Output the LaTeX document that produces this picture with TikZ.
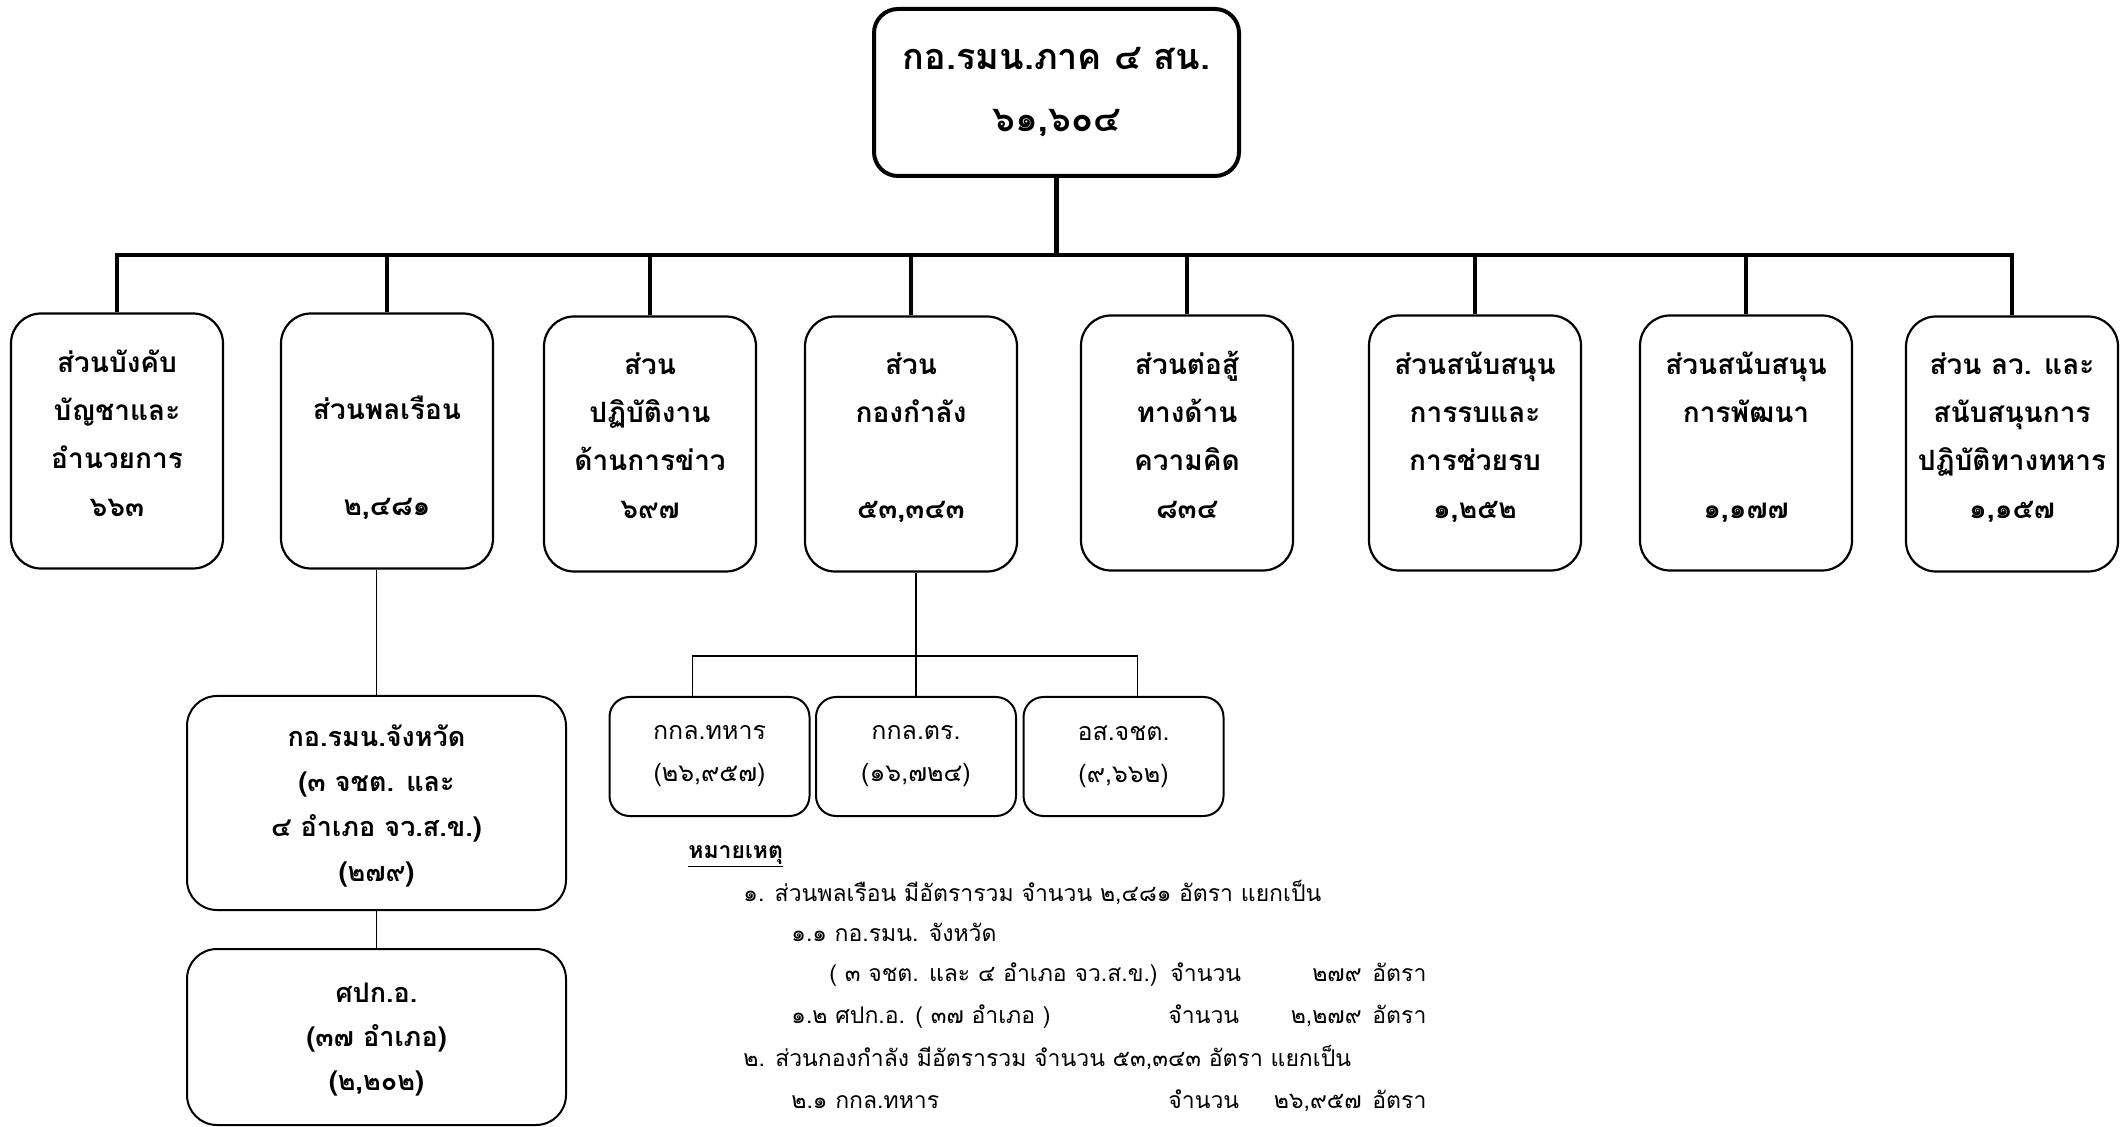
\documentclass[tikz,border=0pt]{standalone}
\usepackage{fontspec}
\setmainfont[Script=Thai]{Loma}
\usetikzlibrary{positioning}
\tikzstyle{head} = [rectangle, draw, line width=2pt, rounded corners=12pt,
    minimum width=182.5pt, minimum height=83.5pt, align=center,
    font=\bfseries\fontsize{18}{31}\selectfont]
\tikzstyle{block} = [rectangle, draw, line width=1.1pt, rounded corners=15pt,
    minimum width=106pt, minimum height=127.5pt, inner sep=2pt, align=center,
    text depth=8pt, font=\bfseries\fontsize{14}{24}\selectfont]
\tikzstyle{subblock} = [rectangle, draw, line width=1pt, rounded corners=15pt,
    minimum width=189.5pt, align=center, font=\bfseries\fontsize{13.5}{22.5}\selectfont]
\tikzstyle{force} = [rectangle, draw, line width=1pt, rounded corners=10pt,
    minimum width=100pt, minimum height=59.5pt, align=center,
    font=\fontsize{12.5}{21}\selectfont]
\tikzstyle{note} = [anchor=base west, inner sep=0pt, font=\fontsize{11.5}{20}\selectfont]
\tikzstyle{notenum} = [note, anchor=base east]
\tikzstyle{line} = [draw, line width=2.2pt]
\tikzstyle{thinline} = [draw, line width=0.7pt]
\newcommand{\blankline}{\phantom{ส่วน}}
\begin{document}
\begin{tikzpicture}[x=0.5pt, y=-0.5pt, node distance = 2cm, auto]
		\useasboundingbox[fill=white] (0,0) rectangle (2125,1127);
		% node placement
		\node [head] (HQ) at (1056.5,92.5) {กอ.รมน.ภาค ๔ สน.\\๖๑,๖๐๔};
		\node [block] (S1) at (117,441) {ส่วนบังคับ\\บัญชาและ\\อำนวยการ\\๖๖๓};
		\node [block] (S2) at (387,441) {\blankline\\ส่วนพลเรือน\\\blankline\\๒,๔๘๑};
		\node [block] (S3) at (650,444) {ส่วน\\ปฏิบัติงาน\\ด้านการข่าว\\๖๙๗};
		\node [block] (S4) at (911,444) {ส่วน\\กองกำลัง\\\blankline\\๕๓,๓๔๓};
		\node [block] (S5) at (1187,443) {ส่วนต่อสู้\\ทางด้าน\\ความคิด\\๘๓๔};
		\node [block] (S6) at (1475,443) {ส่วนสนับสนุน\\การรบและ\\การช่วยรบ\\๑,๒๕๒};
		\node [block] (S7) at (1746,443) {ส่วนสนับสนุน\\การพัฒนา\\\blankline\\๑,๑๗๗};
		\node [block] (S8) at (2012,444) {ส่วน ลว. และ\\สนับสนุนการ\\ปฏิบัติทางทหาร\\๑,๑๕๗};
		
		\node [subblock, minimum height=107pt, text depth=-4.5pt] (PROV) at (376.5,803) {กอ.รมน.จังหวัด\\(๓ จชต. และ\\๔ อำเภอ จว.ส.ข.)\\(๒๗๙)};
		\node [subblock, minimum height=88pt, text depth=-2pt, font=\bfseries\fontsize{13.5}{22}\selectfont] (DIST) at (376.5,1037) {ศปก.อ.\\(๓๗ อำเภอ)\\(๒,๒๐๒)};
		
		\node [force] (F1) at (709.5,756.5) {กกล.ทหาร\\(๒๖,๙๕๗)};
		\node [force] (F2) at (916,756.5) {กกล.ตร.\\(๑๖,๗๒๔)};
		\node [force] (F3) at (1123.5,756.5) {อส.จชต.\\(๙,๖๖๒)};
		
		% notes
		\node [note, font=\bfseries\fontsize{11.5}{20}\selectfont] (N0) at (688,858) {\underline{หมายเหตุ}};
		\node [note] (N1) at (743,901) {๑. ส่วนพลเรือน มีอัตรารวม จำนวน ๒,๔๘๑ อัตรา แยกเป็น};
		\node [note] (N2) at (791,941) {๑.๑ กอ.รมน. จังหวัด};
		\node [note] (N3) at (829,981) {( ๓ จชต. และ ๔ อำเภอ จว.ส.ข.)};
		\node [note] (N3a) at (1170,981) {จำนวน};
		\node [notenum] (N3b) at (1362,981) {๒๗๙};
		\node [note] (N3c) at (1372,981) {อัตรา};
		\node [note] (N4) at (791,1023) {๑.๒ ศปก.อ. ( ๓๗ อำเภอ )};
		\node [note] (N4a) at (1168,1023) {จำนวน};
		\node [notenum] (N4b) at (1362,1023) {๒,๒๗๙};
		\node [note] (N4c) at (1372,1023) {อัตรา};
		\node [note] (N5) at (743,1066) {๒. ส่วนกองกำลัง มีอัตรารวม จำนวน ๕๓,๓๔๓ อัตรา แยกเป็น};
		\node [note] (N6) at (791,1108) {๒.๑ กกล.ทหาร};
		\node [note] (N6a) at (1168,1108) {จำนวน};
		\node [notenum] (N6b) at (1362,1108) {๒๖,๙๕๗};
		\node [note] (N6c) at (1372,1108) {อัตรา};
		
		% connectors
		\coordinate (bus) at (1056.5,255);
		\coordinate (fork) at (916,656);
		\path[line] (HQ.south) -- (bus);
		\path[line] (S1.north) |- (bus) -| (S8.north);
		\foreach \s in {S2,S3,S4,S5,S6,S7}
			\path[line] (\s.north) -- (\s.north |- bus);
		\path[thinline] (PROV.north) -- (PROV.north |- S2.south);
		\path[thinline] (PROV.south) -- (DIST.north);
		\path[thinline] (F2.north) -- (F2.north |- S4.south);
		\path[thinline] ([xshift=-8.5pt]F1.north) |- (fork) -| ([xshift=7pt]F3.north);
	\end{tikzpicture}
\end{document}
